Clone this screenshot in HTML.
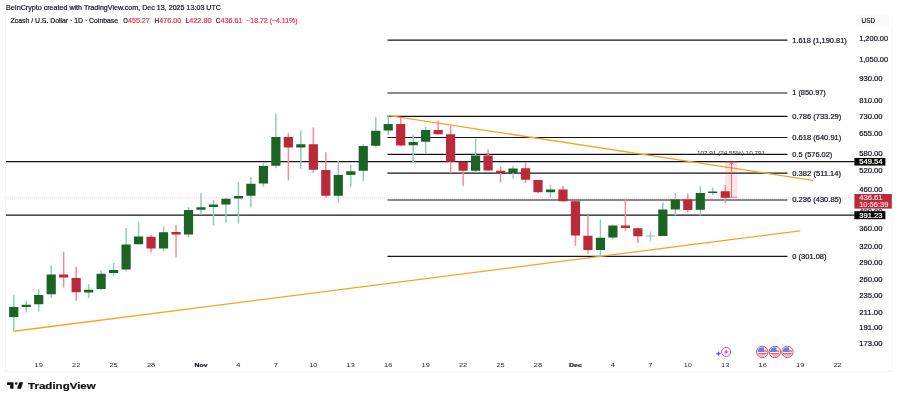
<!DOCTYPE html><html><head><meta charset="utf-8"><title>ZECUSD chart</title>
<style>html,body{margin:0;padding:0;background:#fff;}body{width:900px;height:400px;overflow:hidden;}svg{display:block;font-family:"Liberation Sans",Arial,sans-serif;}</style></head><body>
<svg width="900" height="400" viewBox="0 0 900 400">
<rect width="900" height="400" fill="#ffffff"/>
<g stroke="#eef0f4" stroke-width="0.8" fill="none"><path d="M5.4 15V371.5H892"/></g><g stroke="#f5f6f8" stroke-width="0.8" fill="none"><path d="M892 14V371.5"/></g>
<text x="6" y="9.9" font-size="6.6" fill="#131722" textLength="215" lengthAdjust="spacingAndGlyphs" stroke="#131722" stroke-width="0.2">BeInCrypto created with TradingView.com, Dec 13, 2025 13:03 UTC</text>
<text x="10.6" y="22.6" font-size="6.6" fill="#131722" textLength="107.5" lengthAdjust="spacingAndGlyphs" stroke="#131722" stroke-width="0.2">Zcash / U.S. Dollar · 1D · Coinbase</text>
<text x="123.3" y="22.6" font-size="6.6" fill="#131722" textLength="4.6" lengthAdjust="spacingAndGlyphs" stroke="#131722" stroke-width="0.2">O</text>
<text x="128" y="22.6" font-size="6.6" fill="#f23645" textLength="21.8" lengthAdjust="spacingAndGlyphs" stroke="#f23645" stroke-width="0.2">455.27</text>
<text x="154.5" y="22.6" font-size="6.6" fill="#131722" textLength="4.6" lengthAdjust="spacingAndGlyphs" stroke="#131722" stroke-width="0.2">H</text>
<text x="159.3" y="22.6" font-size="6.6" fill="#f23645" textLength="22" lengthAdjust="spacingAndGlyphs" stroke="#f23645" stroke-width="0.2">476.00</text>
<text x="185.8" y="22.6" font-size="6.6" fill="#131722" textLength="3.4" lengthAdjust="spacingAndGlyphs" stroke="#131722" stroke-width="0.2">L</text>
<text x="189.2" y="22.6" font-size="6.6" fill="#f23645" textLength="22.5" lengthAdjust="spacingAndGlyphs" stroke="#f23645" stroke-width="0.2">422.80</text>
<text x="215.8" y="22.6" font-size="6.6" fill="#131722" textLength="4.6" lengthAdjust="spacingAndGlyphs" stroke="#131722" stroke-width="0.2">C</text>
<text x="220.5" y="22.6" font-size="6.6" fill="#f23645" textLength="22" lengthAdjust="spacingAndGlyphs" stroke="#f23645" stroke-width="0.2">436.61</text>
<text x="246.3" y="22.6" font-size="6.6" fill="#f23645" textLength="51.2" lengthAdjust="spacingAndGlyphs" stroke="#f23645" stroke-width="0.2">−18.72 (−4.11%)</text>
<line x1="6" x2="854.5" y1="161.73" y2="161.73" stroke="#141414" stroke-width="1.25"/>
<line x1="6" x2="854.5" y1="215.17" y2="215.17" stroke="#141414" stroke-width="1.25"/>
<line x1="6" x2="854.5" y1="197.91" y2="197.91" stroke="#f8b4bb" stroke-width="0.6" stroke-dasharray="1 1"/>
<line x1="387.5" x2="787.5" y1="40.11" y2="40.11" stroke="#141414" stroke-width="1.15"/>
<line x1="387.5" x2="787.5" y1="92.95" y2="92.95" stroke="#141414" stroke-width="1.15"/>
<line x1="387.5" x2="787.5" y1="116.36" y2="116.36" stroke="#141414" stroke-width="1.15"/>
<line x1="387.5" x2="787.5" y1="137.54" y2="137.54" stroke="#141414" stroke-width="1.15"/>
<line x1="387.5" x2="787.5" y1="154.33" y2="154.33" stroke="#141414" stroke-width="1.15"/>
<line x1="387.5" x2="787.5" y1="173.12" y2="173.12" stroke="#141414" stroke-width="1.15"/>
<line x1="387.5" x2="787.5" y1="199.99" y2="199.99" stroke="#141414" stroke-width="1.15"/>
<line x1="387.5" x2="787.5" y1="256.36" y2="256.36" stroke="#141414" stroke-width="1.15"/>
<line x1="13.75" y1="331.25" x2="800.3" y2="230.8" stroke="#f5a524" stroke-width="1.3"/>
<line x1="387.5" y1="115.3" x2="813" y2="180.4" stroke="#f5a524" stroke-width="1.3"/>
<rect x="724.8" y="161.8" width="12.5" height="35.5" fill="#f23645" fill-opacity="0.13"/>
<g stroke="#f23645" stroke-width="0.7" fill="none"><path d="M724.8 161.9H737.3"/><path d="M724.8 197.3H737.3"/><path d="M731.5 197.3V162.2"/><path d="M729.6 164.4L731.5 162.2L733.4 164.4"/></g>
<line x1="13.75" x2="13.75" y1="295.0" y2="331.25" stroke="#8ccfbe" stroke-width="1.5"/>
<rect x="9.15" y="307.0" width="9.2" height="10.00" fill="#1c6326"/>
<line x1="26.23" x2="26.23" y1="300.75" y2="312.5" stroke="#8ccfbe" stroke-width="1.5"/>
<rect x="21.63" y="304.75" width="9.2" height="2.25" fill="#1c6326"/>
<line x1="38.71" x2="38.71" y1="289.0" y2="311.5" stroke="#8ccfbe" stroke-width="1.5"/>
<rect x="34.11" y="295.0" width="9.2" height="9.25" fill="#1c6326"/>
<line x1="51.20" x2="51.20" y1="265.5" y2="298.25" stroke="#8ccfbe" stroke-width="1.5"/>
<rect x="46.60" y="274.5" width="9.2" height="19.75" fill="#1c6326"/>
<line x1="63.68" x2="63.68" y1="251.75" y2="287.5" stroke="#f48a9a" stroke-width="1.5"/>
<rect x="59.08" y="274.5" width="9.2" height="3.00" fill="#b92a3a"/>
<line x1="76.16" x2="76.16" y1="266.75" y2="300.75" stroke="#f48a9a" stroke-width="1.5"/>
<rect x="71.56" y="278.0" width="9.2" height="14.25" fill="#b92a3a"/>
<line x1="88.64" x2="88.64" y1="284.25" y2="298.25" stroke="#8ccfbe" stroke-width="1.5"/>
<rect x="84.04" y="289.75" width="9.2" height="2.75" fill="#1c6326"/>
<line x1="101.13" x2="101.13" y1="270.5" y2="290.0" stroke="#8ccfbe" stroke-width="1.5"/>
<rect x="96.53" y="273.75" width="9.2" height="15.25" fill="#1c6326"/>
<line x1="113.61" x2="113.61" y1="263.0" y2="275.5" stroke="#8ccfbe" stroke-width="1.5"/>
<rect x="109.01" y="270.0" width="9.2" height="3.00" fill="#1c6326"/>
<line x1="126.09" x2="126.09" y1="228.0" y2="271.5" stroke="#8ccfbe" stroke-width="1.5"/>
<rect x="121.49" y="244.5" width="9.2" height="25.00" fill="#1c6326"/>
<line x1="138.57" x2="138.57" y1="221.25" y2="244.25" stroke="#8ccfbe" stroke-width="1.5"/>
<rect x="133.97" y="236.5" width="9.2" height="7.75" fill="#1c6326"/>
<line x1="151.06" x2="151.06" y1="235.0" y2="252.5" stroke="#f48a9a" stroke-width="1.5"/>
<rect x="146.46" y="236.75" width="9.2" height="11.75" fill="#b92a3a"/>
<line x1="163.54" x2="163.54" y1="226.25" y2="251.25" stroke="#8ccfbe" stroke-width="1.5"/>
<rect x="158.94" y="232.25" width="9.2" height="16.25" fill="#1c6326"/>
<line x1="176.02" x2="176.02" y1="225.0" y2="257.5" stroke="#f48a9a" stroke-width="1.5"/>
<rect x="171.42" y="232.0" width="9.2" height="2.50" fill="#b92a3a"/>
<line x1="188.50" x2="188.50" y1="207.0" y2="237.0" stroke="#8ccfbe" stroke-width="1.5"/>
<rect x="183.90" y="210.0" width="9.2" height="24.50" fill="#1c6326"/>
<line x1="200.99" x2="200.99" y1="193.0" y2="215.0" stroke="#8ccfbe" stroke-width="1.5"/>
<rect x="196.39" y="207.25" width="9.2" height="2.50" fill="#1c6326"/>
<line x1="213.47" x2="213.47" y1="200.0" y2="225.5" stroke="#8ccfbe" stroke-width="1.5"/>
<rect x="208.87" y="204.5" width="9.2" height="2.50" fill="#1c6326"/>
<line x1="225.95" x2="225.95" y1="198.0" y2="223.0" stroke="#8ccfbe" stroke-width="1.5"/>
<rect x="221.35" y="198.75" width="9.2" height="5.75" fill="#1c6326"/>
<line x1="238.43" x2="238.43" y1="182.0" y2="223.75" stroke="#8ccfbe" stroke-width="1.5"/>
<rect x="233.83" y="196.0" width="9.2" height="2.50" fill="#1c6326"/>
<line x1="250.92" x2="250.92" y1="177.0" y2="207.5" stroke="#8ccfbe" stroke-width="1.5"/>
<rect x="246.32" y="183.75" width="9.2" height="12.00" fill="#1c6326"/>
<line x1="263.40" x2="263.40" y1="162.0" y2="186.5" stroke="#8ccfbe" stroke-width="1.5"/>
<rect x="258.80" y="166.0" width="9.2" height="17.50" fill="#1c6326"/>
<line x1="275.88" x2="275.88" y1="113.75" y2="168.25" stroke="#8ccfbe" stroke-width="1.5"/>
<rect x="271.28" y="137.0" width="9.2" height="28.75" fill="#1c6326"/>
<line x1="288.36" x2="288.36" y1="133.0" y2="180.5" stroke="#f48a9a" stroke-width="1.5"/>
<rect x="283.76" y="137.0" width="9.2" height="10.50" fill="#b92a3a"/>
<line x1="300.85" x2="300.85" y1="130.5" y2="168.75" stroke="#8ccfbe" stroke-width="1.5"/>
<rect x="296.25" y="144.25" width="9.2" height="3.25" fill="#1c6326"/>
<line x1="313.33" x2="313.33" y1="127.5" y2="173.0" stroke="#f48a9a" stroke-width="1.5"/>
<rect x="308.73" y="144.25" width="9.2" height="25.50" fill="#b92a3a"/>
<line x1="325.81" x2="325.81" y1="152.25" y2="197.7" stroke="#f48a9a" stroke-width="1.5"/>
<rect x="321.21" y="170.0" width="9.2" height="25.75" fill="#b92a3a"/>
<line x1="338.29" x2="338.29" y1="160.8" y2="202.5" stroke="#8ccfbe" stroke-width="1.5"/>
<rect x="333.69" y="175.0" width="9.2" height="20.75" fill="#1c6326"/>
<line x1="350.78" x2="350.78" y1="165.0" y2="186.75" stroke="#8ccfbe" stroke-width="1.5"/>
<rect x="346.18" y="171.25" width="9.2" height="3.65" fill="#1c6326"/>
<line x1="363.26" x2="363.26" y1="144.25" y2="181.25" stroke="#8ccfbe" stroke-width="1.5"/>
<rect x="358.66" y="146.0" width="9.2" height="24.75" fill="#1c6326"/>
<line x1="375.74" x2="375.74" y1="117.0" y2="147.5" stroke="#8ccfbe" stroke-width="1.5"/>
<rect x="371.14" y="130.75" width="9.2" height="15.00" fill="#1c6326"/>
<line x1="388.22" x2="388.22" y1="115.5" y2="135.0" stroke="#8ccfbe" stroke-width="1.5"/>
<rect x="383.62" y="124.0" width="9.2" height="6.50" fill="#1c6326"/>
<line x1="400.71" x2="400.71" y1="117.5" y2="146.25" stroke="#f48a9a" stroke-width="1.5"/>
<rect x="396.11" y="124.0" width="9.2" height="21.50" fill="#b92a3a"/>
<line x1="413.19" x2="413.19" y1="134.5" y2="162.5" stroke="#8ccfbe" stroke-width="1.5"/>
<rect x="408.59" y="142.0" width="9.2" height="3.25" fill="#1c6326"/>
<line x1="425.67" x2="425.67" y1="127.0" y2="153.0" stroke="#8ccfbe" stroke-width="1.5"/>
<rect x="421.07" y="130.0" width="9.2" height="11.75" fill="#1c6326"/>
<line x1="438.15" x2="438.15" y1="120.5" y2="134.25" stroke="#f48a9a" stroke-width="1.5"/>
<rect x="433.55" y="130.0" width="9.2" height="4.25" fill="#b92a3a"/>
<line x1="450.64" x2="450.64" y1="125.5" y2="173.0" stroke="#f48a9a" stroke-width="1.5"/>
<rect x="446.04" y="134.25" width="9.2" height="27.50" fill="#b92a3a"/>
<line x1="463.12" x2="463.12" y1="161.75" y2="186.25" stroke="#f48a9a" stroke-width="1.5"/>
<rect x="458.52" y="161.75" width="9.2" height="9.00" fill="#b92a3a"/>
<line x1="475.60" x2="475.60" y1="138.75" y2="172.5" stroke="#8ccfbe" stroke-width="1.5"/>
<rect x="471.00" y="155.5" width="9.2" height="15.25" fill="#1c6326"/>
<line x1="488.08" x2="488.08" y1="149.5" y2="171.25" stroke="#f48a9a" stroke-width="1.5"/>
<rect x="483.48" y="155.5" width="9.2" height="15.00" fill="#b92a3a"/>
<line x1="500.57" x2="500.57" y1="166.25" y2="182.5" stroke="#f48a9a" stroke-width="1.5"/>
<rect x="495.97" y="170.75" width="9.2" height="2.25" fill="#b92a3a"/>
<line x1="513.05" x2="513.05" y1="166.0" y2="178.75" stroke="#8ccfbe" stroke-width="1.5"/>
<rect x="508.45" y="168.5" width="9.2" height="4.50" fill="#1c6326"/>
<line x1="525.53" x2="525.53" y1="162.0" y2="183.0" stroke="#f48a9a" stroke-width="1.5"/>
<rect x="520.93" y="168.25" width="9.2" height="11.50" fill="#b92a3a"/>
<line x1="538.01" x2="538.01" y1="180.0" y2="193.25" stroke="#f48a9a" stroke-width="1.5"/>
<rect x="533.41" y="180.0" width="9.2" height="12.25" fill="#b92a3a"/>
<line x1="550.50" x2="550.50" y1="185.0" y2="197.5" stroke="#8ccfbe" stroke-width="1.5"/>
<rect x="545.90" y="189.5" width="9.2" height="2.75" fill="#1c6326"/>
<line x1="562.98" x2="562.98" y1="185.75" y2="201.75" stroke="#f48a9a" stroke-width="1.5"/>
<rect x="558.38" y="189.5" width="9.2" height="11.75" fill="#b92a3a"/>
<line x1="575.46" x2="575.46" y1="201.25" y2="245.75" stroke="#f48a9a" stroke-width="1.5"/>
<rect x="570.86" y="201.25" width="9.2" height="34.25" fill="#b92a3a"/>
<line x1="587.94" x2="587.94" y1="215.0" y2="253.75" stroke="#f48a9a" stroke-width="1.5"/>
<rect x="583.34" y="235.75" width="9.2" height="14.25" fill="#b92a3a"/>
<line x1="600.43" x2="600.43" y1="219.5" y2="256.25" stroke="#8ccfbe" stroke-width="1.5"/>
<rect x="595.83" y="237.75" width="9.2" height="12.25" fill="#1c6326"/>
<line x1="612.91" x2="612.91" y1="224.5" y2="239.5" stroke="#8ccfbe" stroke-width="1.5"/>
<rect x="608.31" y="225.5" width="9.2" height="12.00" fill="#1c6326"/>
<line x1="625.39" x2="625.39" y1="198.75" y2="231.25" stroke="#f48a9a" stroke-width="1.5"/>
<rect x="620.79" y="225.5" width="9.2" height="2.50" fill="#b92a3a"/>
<line x1="637.87" x2="637.87" y1="227.5" y2="243.0" stroke="#f48a9a" stroke-width="1.5"/>
<rect x="633.27" y="228.25" width="9.2" height="8.00" fill="#b92a3a"/>
<line x1="650.36" x2="650.36" y1="231.25" y2="240.75" stroke="#8ccfbe" stroke-width="1.3"/>
<line x1="645.76" x2="654.96" y1="236.0" y2="236.0" stroke="#8ccfbe" stroke-width="1.1"/>
<line x1="662.84" x2="662.84" y1="202.5" y2="236.0" stroke="#8ccfbe" stroke-width="1.5"/>
<rect x="658.24" y="209.5" width="9.2" height="26.50" fill="#1c6326"/>
<line x1="675.32" x2="675.32" y1="193.0" y2="215.5" stroke="#8ccfbe" stroke-width="1.5"/>
<rect x="670.72" y="199.5" width="9.2" height="10.00" fill="#1c6326"/>
<line x1="687.80" x2="687.80" y1="193.75" y2="212.5" stroke="#f48a9a" stroke-width="1.5"/>
<rect x="683.20" y="199.5" width="9.2" height="10.50" fill="#b92a3a"/>
<line x1="700.29" x2="700.29" y1="186.25" y2="215.5" stroke="#8ccfbe" stroke-width="1.5"/>
<rect x="695.69" y="193.0" width="9.2" height="16.75" fill="#1c6326"/>
<line x1="712.77" x2="712.77" y1="187.5" y2="195.0" stroke="#8ccfbe" stroke-width="1.5"/>
<rect x="708.17" y="191.5" width="9.2" height="1.50" fill="#1c6326"/>
<line x1="725.25" x2="725.25" y1="185.0" y2="203.0" stroke="#f48a9a" stroke-width="1.5"/>
<rect x="720.65" y="191.25" width="9.2" height="6.50" fill="#b92a3a"/>
<text x="792.3" y="42.51" font-size="6.6" fill="#131722" textLength="54.5" lengthAdjust="spacingAndGlyphs" stroke="#131722" stroke-width="0.2">1.618 (1,190.81)</text>
<text x="792.3" y="95.35" font-size="6.6" fill="#131722" textLength="33.5" lengthAdjust="spacingAndGlyphs" stroke="#131722" stroke-width="0.2">1 (850.97)</text>
<text x="792.3" y="118.76" font-size="6.6" fill="#131722" textLength="49" lengthAdjust="spacingAndGlyphs" stroke="#131722" stroke-width="0.2">0.786 (733.29)</text>
<text x="792.3" y="139.94" font-size="6.6" fill="#131722" textLength="49" lengthAdjust="spacingAndGlyphs" stroke="#131722" stroke-width="0.2">0.618 (640.91)</text>
<text x="792.3" y="156.73" font-size="6.6" fill="#131722" textLength="40" lengthAdjust="spacingAndGlyphs" stroke="#131722" stroke-width="0.2">0.5 (576.02)</text>
<text x="792.3" y="175.52" font-size="6.6" fill="#131722" textLength="48.8" lengthAdjust="spacingAndGlyphs" stroke="#131722" stroke-width="0.2">0.382 (511.14)</text>
<text x="792.3" y="202.39" font-size="6.6" fill="#131722" textLength="49" lengthAdjust="spacingAndGlyphs" stroke="#131722" stroke-width="0.2">0.236 (430.85)</text>
<text x="792.3" y="258.76" font-size="6.6" fill="#131722" textLength="34.2" lengthAdjust="spacingAndGlyphs" stroke="#131722" stroke-width="0.2">0 (301.08)</text>
<text x="731" y="155.0" font-size="5.9" fill="#2a2e39" text-anchor="middle" textLength="68" lengthAdjust="spacingAndGlyphs">107.91 (24.55%) 10,791</text>
<text x="859.2" y="41.25" font-size="6.5" fill="#131722" textLength="28.9" lengthAdjust="spacingAndGlyphs" stroke="#131722" stroke-width="0.2">1,200.00</text>
<text x="859.2" y="62.25" font-size="6.5" fill="#131722" textLength="28.9" lengthAdjust="spacingAndGlyphs" stroke="#131722" stroke-width="0.2">1,050.00</text>
<text x="859.2" y="81.34" font-size="6.5" fill="#131722" textLength="23.4" lengthAdjust="spacingAndGlyphs" stroke="#131722" stroke-width="0.2">930.00</text>
<text x="859.2" y="103.06" font-size="6.5" fill="#131722" textLength="23.4" lengthAdjust="spacingAndGlyphs" stroke="#131722" stroke-width="0.2">810.00</text>
<text x="859.2" y="119.42" font-size="6.5" fill="#131722" textLength="23.4" lengthAdjust="spacingAndGlyphs" stroke="#131722" stroke-width="0.2">730.00</text>
<text x="859.2" y="136.47" font-size="6.5" fill="#131722" textLength="23.4" lengthAdjust="spacingAndGlyphs" stroke="#131722" stroke-width="0.2">655.00</text>
<text x="859.2" y="155.59" font-size="6.5" fill="#131722" textLength="23.4" lengthAdjust="spacingAndGlyphs" stroke="#131722" stroke-width="0.2">580.00</text>
<text x="859.2" y="172.77" font-size="6.5" fill="#131722" textLength="23.4" lengthAdjust="spacingAndGlyphs" stroke="#131722" stroke-width="0.2">520.00</text>
<text x="859.2" y="192.05" font-size="6.5" fill="#131722" textLength="23.4" lengthAdjust="spacingAndGlyphs" stroke="#131722" stroke-width="0.2">460.00</text>
<text x="859.2" y="214.03" font-size="6.5" fill="#131722" textLength="23.4" lengthAdjust="spacingAndGlyphs" stroke="#131722" stroke-width="0.2">400.00</text>
<text x="859.2" y="230.60" font-size="6.5" fill="#131722" textLength="23.4" lengthAdjust="spacingAndGlyphs" stroke="#131722" stroke-width="0.2">360.00</text>
<text x="859.2" y="249.12" font-size="6.5" fill="#131722" textLength="23.4" lengthAdjust="spacingAndGlyphs" stroke="#131722" stroke-width="0.2">320.00</text>
<text x="859.2" y="264.60" font-size="6.5" fill="#131722" textLength="23.4" lengthAdjust="spacingAndGlyphs" stroke="#131722" stroke-width="0.2">290.00</text>
<text x="859.2" y="281.78" font-size="6.5" fill="#131722" textLength="23.4" lengthAdjust="spacingAndGlyphs" stroke="#131722" stroke-width="0.2">260.00</text>
<text x="859.2" y="297.68" font-size="6.5" fill="#131722" textLength="23.4" lengthAdjust="spacingAndGlyphs" stroke="#131722" stroke-width="0.2">235.00</text>
<text x="859.2" y="314.62" font-size="6.5" fill="#131722" textLength="23.4" lengthAdjust="spacingAndGlyphs" stroke="#131722" stroke-width="0.2">211.00</text>
<text x="859.2" y="330.28" font-size="6.5" fill="#131722" textLength="23.4" lengthAdjust="spacingAndGlyphs" stroke="#131722" stroke-width="0.2">191.00</text>
<text x="859.2" y="345.85" font-size="6.5" fill="#131722" textLength="23.4" lengthAdjust="spacingAndGlyphs" stroke="#131722" stroke-width="0.2">173.00</text>
<rect x="856.5" y="15" width="33" height="12" fill="#fafafb"/>
<text x="861.6" y="23.4" font-size="6.3" fill="#131722" textLength="13.4" lengthAdjust="spacingAndGlyphs" stroke="#131722" stroke-width="0.2">USD</text>
<rect x="854.4" y="157.93" width="31.00" height="7.6" fill="#000000"/>
<text x="859.2" y="164.13" font-size="6.5" fill="#ffffff" textLength="23.4" lengthAdjust="spacingAndGlyphs" stroke="#ffffff" stroke-width="0.2">549.54</text>
<rect x="854.4" y="194.00" width="37.40" height="14.6" fill="#b92a3a"/>
<text x="859.2" y="200.4" font-size="6.5" fill="#fbd5da" textLength="23.4" lengthAdjust="spacingAndGlyphs" stroke="#fbd5da" stroke-width="0.2">436.61</text>
<text x="859.2" y="207.0" font-size="6.5" fill="#fbd5da" textLength="29.2" lengthAdjust="spacingAndGlyphs" stroke="#fbd5da" stroke-width="0.2">10:56:39</text>
<rect x="854.4" y="211.17" width="31.00" height="8" fill="#000000"/>
<text x="859.2" y="217.57" font-size="6.5" fill="#ffffff" textLength="23.4" lengthAdjust="spacingAndGlyphs" stroke="#ffffff" stroke-width="0.2">391.23</text>
<text x="38.71" y="367.1" font-size="5.8" fill="#2a2e39" text-anchor="middle" textLength="8.3" lengthAdjust="spacingAndGlyphs">19</text>
<text x="76.16" y="367.1" font-size="5.8" fill="#2a2e39" text-anchor="middle" textLength="8.3" lengthAdjust="spacingAndGlyphs">22</text>
<text x="113.61" y="367.1" font-size="5.8" fill="#2a2e39" text-anchor="middle" textLength="8.3" lengthAdjust="spacingAndGlyphs">25</text>
<text x="151.06" y="367.1" font-size="5.8" fill="#2a2e39" text-anchor="middle" textLength="8.3" lengthAdjust="spacingAndGlyphs">28</text>
<text x="200.99" y="367.1" font-size="5.9" fill="#131722" text-anchor="middle" textLength="13" lengthAdjust="spacingAndGlyphs" font-weight="bold" stroke="#131722" stroke-width="0.2">Nov</text>
<text x="238.43" y="367.1" font-size="5.8" fill="#2a2e39" text-anchor="middle" textLength="4.15" lengthAdjust="spacingAndGlyphs">4</text>
<text x="275.88" y="367.1" font-size="5.8" fill="#2a2e39" text-anchor="middle" textLength="4.15" lengthAdjust="spacingAndGlyphs">7</text>
<text x="313.33" y="367.1" font-size="5.8" fill="#2a2e39" text-anchor="middle" textLength="8.3" lengthAdjust="spacingAndGlyphs">10</text>
<text x="350.78" y="367.1" font-size="5.8" fill="#2a2e39" text-anchor="middle" textLength="8.3" lengthAdjust="spacingAndGlyphs">13</text>
<text x="388.22" y="367.1" font-size="5.8" fill="#2a2e39" text-anchor="middle" textLength="8.3" lengthAdjust="spacingAndGlyphs">16</text>
<text x="425.67" y="367.1" font-size="5.8" fill="#2a2e39" text-anchor="middle" textLength="8.3" lengthAdjust="spacingAndGlyphs">19</text>
<text x="463.12" y="367.1" font-size="5.8" fill="#2a2e39" text-anchor="middle" textLength="8.3" lengthAdjust="spacingAndGlyphs">22</text>
<text x="500.57" y="367.1" font-size="5.8" fill="#2a2e39" text-anchor="middle" textLength="8.3" lengthAdjust="spacingAndGlyphs">25</text>
<text x="538.01" y="367.1" font-size="5.8" fill="#2a2e39" text-anchor="middle" textLength="8.3" lengthAdjust="spacingAndGlyphs">28</text>
<text x="575.46" y="367.1" font-size="5.9" fill="#131722" text-anchor="middle" textLength="13" lengthAdjust="spacingAndGlyphs" font-weight="bold" stroke="#131722" stroke-width="0.2">Dec</text>
<text x="612.91" y="367.1" font-size="5.8" fill="#2a2e39" text-anchor="middle" textLength="4.15" lengthAdjust="spacingAndGlyphs">4</text>
<text x="650.36" y="367.1" font-size="5.8" fill="#2a2e39" text-anchor="middle" textLength="4.15" lengthAdjust="spacingAndGlyphs">7</text>
<text x="687.80" y="367.1" font-size="5.8" fill="#2a2e39" text-anchor="middle" textLength="8.3" lengthAdjust="spacingAndGlyphs">10</text>
<text x="725.25" y="367.1" font-size="5.8" fill="#2a2e39" text-anchor="middle" textLength="8.3" lengthAdjust="spacingAndGlyphs">13</text>
<text x="762.70" y="367.1" font-size="5.8" fill="#2a2e39" text-anchor="middle" textLength="8.3" lengthAdjust="spacingAndGlyphs">16</text>
<text x="800.14" y="367.1" font-size="5.8" fill="#2a2e39" text-anchor="middle" textLength="8.3" lengthAdjust="spacingAndGlyphs">19</text>
<text x="837.59" y="367.1" font-size="5.8" fill="#2a2e39" text-anchor="middle" textLength="8.3" lengthAdjust="spacingAndGlyphs">22</text>
<g transform="translate(726.1 351.9)"><circle r="4.55" fill="#fff" stroke="#b54ad9" stroke-width="0.95"/><path d="M1 -3L-2.1 0.5H-0.2L-1 3L2.1 -0.5H0.2Z" fill="#a545dc"/><circle cx="-7.2" cy="1.8" r="2.6" fill="#fff"/><path d="M-7.6 -0.4L-6.9 1.1L-5.4 1.8L-6.9 2.5L-7.6 4L-8.3 2.5L-9.8 1.8L-8.3 1.1Z" fill="#7b47f0" stroke="#7b47f0" stroke-width="0.5" stroke-linejoin="round"/></g>
<g transform="translate(762.3 351.9)"><clipPath id="c762"><circle r="4.7"/></clipPath><circle r="5.7" fill="#fff" stroke="#f4454f" stroke-width="1"/><g clip-path="url(#c762)"><rect x="-5" y="-5" width="10" height="10" fill="#fff"/><rect x="-5" y="-1.5" width="10" height="1.3" fill="#f4454f"/><rect x="-5" y="1.2" width="10" height="1.3" fill="#f4454f"/><rect x="-5" y="3.7" width="10" height="1.3" fill="#f4454f"/><rect x="-5" y="-5" width="6.7" height="5" fill="#3f8ff0"/></g></g>
<g transform="translate(774.8 351.9)"><clipPath id="c774"><circle r="4.7"/></clipPath><circle r="5.7" fill="#fff" stroke="#f4454f" stroke-width="1"/><g clip-path="url(#c774)"><rect x="-5" y="-5" width="10" height="10" fill="#fff"/><rect x="-5" y="-1.5" width="10" height="1.3" fill="#f4454f"/><rect x="-5" y="1.2" width="10" height="1.3" fill="#f4454f"/><rect x="-5" y="3.7" width="10" height="1.3" fill="#f4454f"/><rect x="-5" y="-5" width="6.7" height="5" fill="#3f8ff0"/></g></g>
<g transform="translate(787.4 351.9)"><clipPath id="c787"><circle r="4.7"/></clipPath><circle r="5.7" fill="#fff" stroke="#f4454f" stroke-width="1"/><g clip-path="url(#c787)"><rect x="-5" y="-5" width="10" height="10" fill="#fff"/><rect x="-5" y="-1.5" width="10" height="1.3" fill="#f4454f"/><rect x="-5" y="1.2" width="10" height="1.3" fill="#f4454f"/><rect x="-5" y="3.7" width="10" height="1.3" fill="#f4454f"/><rect x="-5" y="-5" width="6.7" height="5" fill="#3f8ff0"/></g></g>
<g fill="#111111"><path d="M7.1 382.3H13.5V388.7H10.2V384.9H7.1Z"/><circle cx="16.1" cy="383.5" r="1.25"/><path d="M19.2 382.3H23.1L21 388.7H17.1Z"/></g>
<text x="28.1" y="388.7" font-size="9.1" fill="#111111" textLength="67.6" lengthAdjust="spacingAndGlyphs" font-weight="bold" stroke="#111111" stroke-width="0.2">TradingView</text>
</svg></body></html>
